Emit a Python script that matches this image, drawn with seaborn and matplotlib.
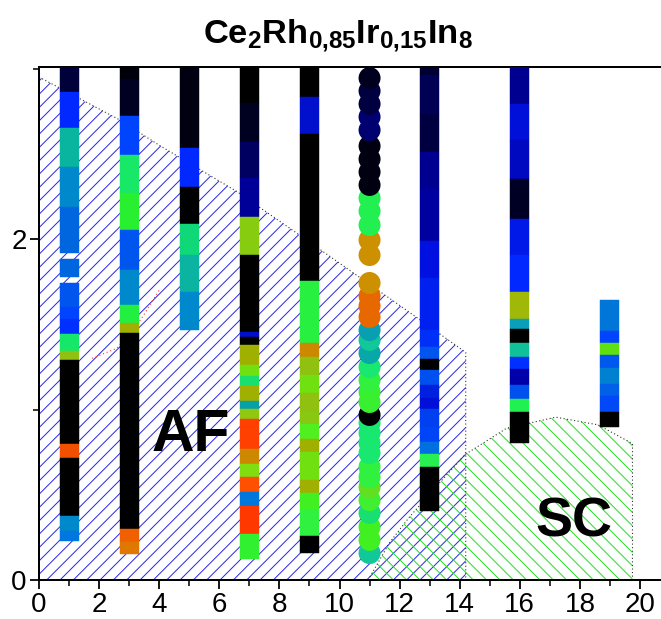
import matplotlib
matplotlib.use("Agg")
import matplotlib.pyplot as plt
from matplotlib.ticker import MultipleLocator
import numpy as np
import pandas as pd
import seaborn as sns

# ---------------- data ----------------
title_tex = r"$\mathbf{Ce_2Rh_{0{,}85}Ir_{0{,}15}In_8}$"

x_ticks = [0, 2, 4, 6, 8, 10, 12, 14, 16, 18, 20]
y_ticks = [0, 2]

# AF phase boundary (x, T)
af_x = [0.0, 0.0, 2.67, 4.0, 6.57, 8.33, 12.57, 14.2, 14.2]
af_y = [0.0, 2.95, 2.70, 2.55, 2.28, 2.065, 1.54, 1.335, 0.0]

# SC dome (x, T)
sc_x = [10.95, 11.67, 12.33, 13.33, 14.17, 15.56, 17.2, 18.6, 19.75, 19.75]
sc_y = [0.0, 0.22, 0.37, 0.57, 0.735, 0.89, 0.955, 0.91, 0.80, 0.0]

# faint red dotted line
red_x = [1.77, 2.6, 3.4, 4.0]
red_y = [1.30, 1.36, 1.53, 1.70]

# square-marker columns: edges from top to bottom, colour between edges (None = gap)
col1_x = 1
col1_edges = [3.05, 2.86, 2.65, 2.42, 2.19, 1.92, 1.88, 1.78, 1.74, 1.60, 1.53, 1.443, 1.343, 1.29, 0.80, 0.715, 0.375, 0.287, 0.23]
col1_colors = ["#00003a", "#0028ff", "#0ab5a0", "#0088cc", "#0066e0", None, "#0066e0", None, "#0055ee", "#0044ff", "#0030ff", "#15e868", "#90c010", "#000000", "#f05000", "#000000", "#0088cc", "#0077e0"]

col3_x = 3
col3_edges = [3.05, 2.94, 2.72, 2.49, 2.27, 2.05, 1.82, 1.61, 1.51, 1.45, 0.30, 0.22, 0.15]
col3_colors = ["#00000a", "#000022", "#0044ff", "#18e868", "#28f030", "#0055ee", "#0088cc", "#22f040", "#a0b000", "#000000", "#f06000", "#e07800"]

col5_x = 5
col5_edges = [3.05, 2.535, 2.305, 2.09, 1.905, 1.69, 1.467]
col5_colors = ["#000010", "#0028ff", "#000000", "#10d878", "#0ab4a0", "#0088cc"]

col7_x = 7
col7_edges = [3.05, 2.80, 2.57, 2.36, 2.13, 1.906, 1.455, 1.425, 1.378, 1.26, 1.197, 1.138, 1.05, 1.003, 0.944, 0.768, 0.68, 0.604, 0.516, 0.434, 0.27, 0.123]
col7_colors = ["#000000", "#000020", "#000060", "#000099", "#88cc10", "#000000", "#0010cc", "#000000", "#a0b000", "#70e010", "#18e070", "#a0b000", "#08a0a8", "#90c810", "#ff4000", "#cc8800", "#80dd10", "#ff5000", "#0077dd", "#ff3800", "#30f030"]

col9_x = 9
col9_edges = [3.05, 2.83, 2.615, 1.753, 1.39, 1.308, 1.20, 1.097, 0.985, 0.915, 0.827, 0.75, 0.587, 0.51, 0.41, 0.258, 0.158]
col9_colors = ["#000000", "#0010cc", "#000000", "#28f040", "#cc8800", "#90c010", "#70e010", "#90c010", "#88c810", "#50f020", "#a0b000", "#70e010", "#a0b000", "#40f020", "#30f040", "#000000"]

col13_x = 13
col13_edges = [3.05, 2.96, 2.735, 2.51, 2.295, 1.99, 1.77, 1.467, 1.367, 1.296, 1.232, 1.144, 1.068, 1.003, 0.897, 0.81, 0.74, 0.663, 0.405]
col13_colors = ["#000030", "#000055", "#000040", "#000090", "#0000a0", "#0010e0", "#0020f0", "#0030f8", "#0055ee", "#000000", "#0050f0", "#0020e0", "#0010d8", "#0040f0", "#0044f8", "#0070e0", "#28f050", "#000000"]

col16_x = 16
col16_edges = [3.05, 2.79, 2.58, 2.35, 2.12, 1.906, 1.69, 1.53, 1.47, 1.39, 1.308, 1.238, 1.144, 1.062, 0.985, 0.803]
col16_colors = ["#000090", "#0010d8", "#0008c0", "#000025", "#0018e8", "#0028ff", "#a0b808", "#08a0b8", "#000000", "#10c098", "#0030ff", "#0000a8", "#0050f0", "#20f050", "#000000"]

col19_x = 19
col19_edges = [1.643, 1.46, 1.39, 1.32, 1.243, 1.15, 1.08, 0.985, 0.90]
col19_colors = ["#0077d8", "#0044ff", "#60e010", "#0058ee", "#0080d0", "#0060e8", "#0048f8", "#000000"]

# circle-marker column at x = 11 (top to bottom)
col11_x = 11
col11_y = [2.944, 2.868, 2.792, 2.716, 2.639, 2.545, 2.469, 2.393, 2.317, 2.240, 2.164, 2.082,
           1.994, 1.906, 1.742, 1.666, 1.607, 1.543, 1.466, 1.408, 1.331, 1.249, 1.173, 1.103,
           1.044, 0.968, 0.921, 0.862, 0.804, 0.745, 0.663, 0.604, 0.545, 0.469, 0.393, 0.311,
           0.235, 0.158]
col11_colors = ["#00001e", "#000040", "#000040", "#000070", "#000070", "#000010", "#000010", "#000010",
                "#000010", "#22f050", "#22f050", "#22f050", "#cc9000", "#cc9000", "#cc9000", "#e86800",
                "#e86800", "#e86800", "#08a0b0", "#10c898", "#08a8a8", "#18e870", "#30f040", "#38f030",
                "#38f030", "#000000", "#18e870", "#18e870", "#18e870", "#18e870", "#30f040", "#30f040",
                "#60e020", "#40f030", "#18e070", "#40f020", "#40f020", "#10c898"]

# ---------------- style ----------------
DPI = 80
sns.set_theme(style="ticks")
plt.rcParams["font.family"] = ["Liberation Sans", "DejaVu Sans"]
plt.rcParams["mathtext.fontset"] = "custom"
plt.rcParams["mathtext.bf"] = "Liberation Sans:bold"
plt.rcParams["mathtext.rm"] = "Liberation Sans"
plt.rcParams["hatch.linewidth"] = 0.9
plt.rcParams["text.color"] = "black"
plt.rcParams["xtick.color"] = "black"
plt.rcParams["ytick.color"] = "black"

fig = plt.figure(figsize=(661 / DPI, 619 / DPI), dpi=DPI)
ax = fig.add_axes([39 / 661, 39 / 619, 622 / 661, 513 / 619])
ax.set_xlim(0, 622 / 30.05)
ax.set_ylim(0, 513 / 170.5)

# phase regions
ax.fill(af_x, af_y, facecolor="none", edgecolor="#2a2ae8", hatch="//", linewidth=0, zorder=1)
ax.fill(sc_x, sc_y, facecolor="none", edgecolor="#22e022", hatch="\\\\", linewidth=0, zorder=1)
ax.plot(af_x[1:], af_y[1:], linestyle=(0, (1, 2.2)), color="#333333", linewidth=1.0, zorder=2)
ax.plot(sc_x, sc_y, linestyle=(0, (1, 2.2)), color="#333333", linewidth=1.0, zorder=2)
ax.plot(red_x, red_y, linestyle=(0, (1, 2.5)), color="#ff3030", linewidth=1.0, zorder=2)

# square columns
bar_w = 0.63
columns = [
    (col1_x, col1_edges, col1_colors),
    (col3_x, col3_edges, col3_colors),
    (col5_x, col5_edges, col5_colors),
    (col7_x, col7_edges, col7_colors),
    (col9_x, col9_edges, col9_colors),
    (col13_x, col13_edges, col13_colors),
    (col16_x, col16_edges, col16_colors),
    (col19_x, col19_edges, col19_colors),
]
for cx, edges, cols in columns:
    for i, c in enumerate(cols):
        if c is None:
            continue
        top, bot = edges[i], edges[i + 1]
        ax.bar(cx, top - bot, bottom=bot, width=bar_w, color=c, linewidth=0.4, edgecolor=c, zorder=3)

# circle column (drawn from lowest to highest so upper circles overlap lower ones)
df11 = pd.DataFrame({"x": [col11_x] * len(col11_y), "y": col11_y,
                     "k": [f"p{i}" for i in range(len(col11_y))], "c": col11_colors})
df11 = df11.iloc[::-1].reset_index(drop=True)
sns.scatterplot(data=df11, x="x", y="y", hue="k", palette=list(df11["c"]), legend=False,
                s=(22 * 72 / DPI) ** 2, marker="o", linewidth=0, edgecolor="none", ax=ax, zorder=4)

# labels
ax.text(5.05, 0.85, "AF", fontsize=53, fontweight="bold", color="black", ha="center", va="center", zorder=5)
ax.text(17.8, 0.335, "SC", fontsize=50, fontweight="bold", color="black", ha="center", va="center", zorder=5)
fig.text(0.511, 1 - 43 / 619, title_tex, fontsize=31, color="black", ha="center", va="baseline")

# axes styling
ax.set_xlabel("")
ax.set_ylabel("")
ax.set_xticks(x_ticks)
ax.set_yticks(y_ticks)
ax.set_xticklabels([str(v) for v in x_ticks])
ax.set_yticklabels([str(v) for v in y_ticks])
ax.xaxis.set_minor_locator(MultipleLocator(1))
ax.yaxis.set_minor_locator(MultipleLocator(1))
ax.tick_params(axis="both", which="major", direction="out", length=8, width=1.6,
               labelsize=25, pad=3, color="black", labelcolor="black")
ax.tick_params(axis="both", which="minor", direction="out", length=5, width=1.4, color="black")
ax.tick_params(top=False, right=False, which="both")
for s in ["left", "bottom", "top"]:
    ax.spines[s].set_linewidth(1.8)
    ax.spines[s].set_color("black")
ax.spines["right"].set_visible(False)
ax.grid(False)
ax.set_facecolor("white")

fig.savefig("out.png", dpi=DPI)
